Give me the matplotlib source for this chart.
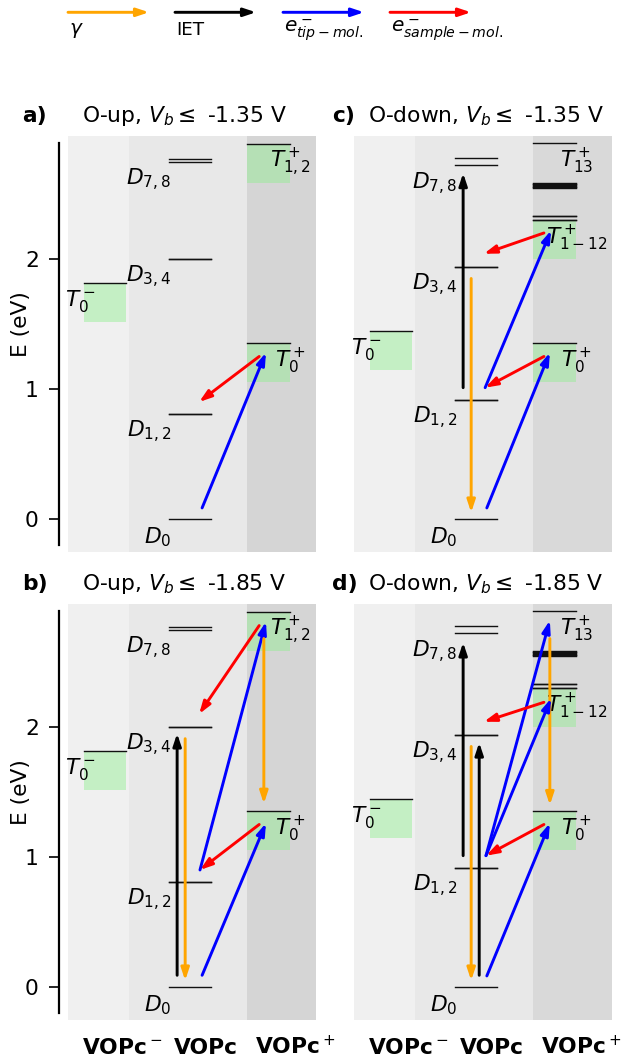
import matplotlib
matplotlib.use("Agg")
import matplotlib.pyplot as plt
from matplotlib.transforms import blended_transform_factory

W, H = 621, 1057
fig = plt.figure(figsize=(W / 100, H / 100), dpi=100)

# ---------------- DATA ----------------
column_names = ["VOPc$^-$", "VOPc", "VOPc$^+$"]
legend_kinds = ["photon", "iet", "tip", "sample"]
legend_labels = [r"$\gamma$", "IET", r"$e^-_{tip-mol.}$", r"$e^-_{sample-mol.}$"]

# O-up: levels (eV) per column
up_anion = [1.815]
up_neutral = [0.0, 0.808, 0.81, 1.999, 2.003, 2.745, 2.77]
up_cation = [1.35, 2.885]
up_boxes = [("anion", 1.815), ("cation", 1.35), ("cation", 2.885)]
up_labels = [("anion", r"$T_0^-$", 1.815),
             ("neutral", r"$D_0$", 0.0), ("neutral", r"$D_{1,2}$", 0.81),
             ("neutral", r"$D_{3,4}$", 2.0), ("neutral", r"$D_{7,8}$", 2.75),
             ("cation", r"$T_0^+$", 1.35), ("cation", r"$T_{1,2}^+$", 2.885)]

# O-down
down_anion = [1.446]
down_neutral = [0.0, 0.916, 0.918, 1.938, 1.94, 2.72, 2.78]
down_cation = [1.35, 2.30, 2.303, 2.328, 2.33, 2.545, 2.55, 2.555, 2.565,
               2.57, 2.575, 2.58, 2.585, 2.89]
down_boxes = [("anion", 1.446), ("cation", 1.35), ("cation", 2.30)]
down_labels = [("anion", r"$T_0^-$", 1.446),
               ("neutral", r"$D_0$", 0.0), ("neutral", r"$D_{1,2}$", 0.918),
               ("neutral", r"$D_{3,4}$", 1.94), ("neutral", r"$D_{7,8}$", 2.72),
               ("cation", r"$T_0^+$", 1.35), ("cation", r"$T_{1-12}^+$", 2.30),
               ("cation", r"$T_{13}^+$", 2.89)]

# arrows: (kind, x_from, E_from, x_to, E_to)
arrows_a = [("tip", 3.17, 0.085, 4.68, 1.28),
            ("sample", 4.52, 1.25, 3.10, 0.90)]
arrows_b = [("iet", 2.58, 0.09, 2.58, 1.95),
            ("photon", 2.77, 1.91, 2.77, 0.05),
            ("tip", 3.17, 0.09, 4.68, 1.26),
            ("sample", 4.52, 1.25, 3.12, 0.90),
            ("tip", 3.12, 0.90, 4.68, 2.81),
            ("sample", 4.52, 2.78, 3.10, 2.10),
            ("photon", 4.63, 2.68, 4.63, 1.41)]
arrows_c = [("iet", 2.58, 1.01, 2.58, 2.66),
            ("photon", 2.77, 1.85, 2.77, 0.05),
            ("tip", 3.14, 0.085, 4.63, 1.28),
            ("sample", 4.49, 1.25, 3.10, 1.01),
            ("tip", 3.10, 1.01, 4.66, 2.22),
            ("sample", 4.49, 2.20, 3.07, 2.04)]
arrows_d = [("iet", 2.58, 1.01, 2.58, 2.65),
            ("photon", 2.77, 1.85, 2.77, 0.05),
            ("iet", 2.96, 0.09, 2.96, 1.88),
            ("photon", 4.63, 2.68, 4.63, 1.40),
            ("tip", 3.14, 0.085, 4.63, 1.26),
            ("sample", 4.49, 1.25, 3.12, 1.01),
            ("tip", 3.12, 1.01, 4.66, 2.22),
            ("tip", 3.12, 1.01, 4.63, 2.82),
            ("sample", 4.49, 2.19, 3.07, 2.04)]

panel_tags = ["a)", "b)", "c)", "d)"]
panel_titles = [r"O-up, $V_b \leq$ -1.35 V", r"O-up, $V_b \leq$ -1.85 V",
                r"O-down, $V_b \leq$ -1.35 V", r"O-down, $V_b \leq$ -1.85 V"]

# ---------------- STYLE ----------------
COLORS = {"photon": "orange", "iet": "black", "tip": "blue", "sample": "red"}
ARROW = "-|>,head_length=0.36,head_width=0.12"
LINE_X = {"anion": (0.38, 1.38), "neutral": (2.39, 3.39), "cation": (4.24, 5.24)}
LABEL_X = {"anion": (0.30, "center"), "neutral": (2.44, "right"), "cation": (5.27, "center")}
NAME_X = [1.28, 3.25, 5.37]
YLIM = (-0.254, 2.946)
FS = 15.7


def px_axes(left, top, right, bottom):
    return fig.add_axes([left / W, 1 - bottom / H, (right - left) / W, (bottom - top) / H])


def arrow(ax, x0, y0, x1, y1, color):
    ax.annotate("", xy=(x1, y1), xytext=(x0, y0),
                arrowprops=dict(arrowstyle=ARROW, color=color, lw=2.1,
                                shrinkA=0, shrinkB=0, mutation_scale=20),
                zorder=4)


def draw_panel(ax, xmax, shade3, anion, neutral, cation, boxes, labels, arrows):
    ax.set_xlim(0, xmax)
    ax.set_ylim(*YLIM)
    ax.axvspan(0, 1.44, color="#f0f0f0", lw=0, zorder=0)
    ax.axvspan(1.44, 4.24, color="#e8e8e8", lw=0, zorder=0)
    ax.axvspan(4.24, xmax, color=shade3, lw=0, zorder=0)

    for col, e in boxes:
        ax.fill_between(LINE_X[col], e - 0.3, e, color="lightgreen", alpha=0.45,
                        lw=0, zorder=1)
    for col, levels in (("anion", anion), ("neutral", neutral), ("cation", cation)):
        for e in levels:
            ax.plot(LINE_X[col], [e, e], color="#111111", lw=1.0, zorder=2)
    for col, txt, e in labels:
        x, ha = LABEL_X[col]
        ax.text(x, e - 0.14, txt, ha=ha, va="center", fontsize=FS, zorder=3)
    for kind, x0, e0, x1, e1 in arrows:
        arrow(ax, x0, e0, x1, e1, COLORS[kind])

    ax.set_xticks([])
    for s in ax.spines.values():
        s.set_visible(False)
    ax.set_yticks([])


# layout overlay in pixel coordinates
lay = fig.add_axes([0, 0, 1, 1], zorder=-1)
lay.set_xlim(0, W)
lay.set_ylim(H, 0)
lay.axis("off")

ax_a = px_axes(68, 136, 316, 552)
ax_b = px_axes(68, 604, 316, 1020)
ax_c = px_axes(354, 136, 612, 552)
ax_d = px_axes(354, 604, 612, 1020)

draw_panel(ax_a, 248 / 42.3, "#d5d5d5", up_anion, up_neutral, up_cation, up_boxes, up_labels, arrows_a)
draw_panel(ax_b, 248 / 42.3, "#d5d5d5", up_anion, up_neutral, up_cation, up_boxes, up_labels, arrows_b)
draw_panel(ax_c, 258 / 42.3, "#d9d9d9", down_anion, down_neutral, down_cation, down_boxes, down_labels, arrows_c)
draw_panel(ax_d, 258 / 42.3, "#d9d9d9", down_anion, down_neutral, down_cation, down_boxes, down_labels, arrows_d)

# energy axis on the left panels
for ax in (ax_a, ax_b):
    ax.spines["left"].set_visible(True)
    ax.spines["left"].set_position(("outward", 6.5))
    ax.spines["left"].set_bounds(-0.2, 2.89)
    ax.spines["left"].set_linewidth(1.6)
    ax.set_yticks([0, 1, 2])
    ax.tick_params(axis="y", length=7.5, width=1.2, labelsize=FS, pad=7)

lay.text(21, 324, "E (eV)", rotation=90, ha="center", va="center", fontsize=FS)
lay.text(21, 792, "E (eV)", rotation=90, ha="center", va="center", fontsize=FS)

# molecule names under bottom panels
for ax in (ax_b, ax_d):
    tr = blended_transform_factory(ax.transData, ax.transAxes)
    for x, name in zip(NAME_X, column_names):
        ax.text(x, -0.082, name, transform=tr, ha="center", va="baseline",
                fontsize=FS, fontweight="bold")

# panel titles
for (tx, lx, by), tag, title in zip([(22, 82, 122), (22, 82, 590), (332, 368, 122), (332, 368, 590)],
                                    panel_tags, panel_titles):
    lay.text(tx, by, tag, ha="left", va="baseline", fontsize=FS, fontweight="bold")
    lay.text(lx, by, title, ha="left", va="baseline", fontsize=FS)

# legend row
for i, (kind, lab) in enumerate(zip(legend_kinds, legend_labels)):
    x0 = [68, 175, 283, 390][i]
    lay.annotate("", xy=(x0 + 81, 12.3), xytext=(x0, 12.3),
                 arrowprops=dict(arrowstyle=ARROW, color=COLORS[kind], lw=2.1,
                                 shrinkA=0, shrinkB=0, mutation_scale=20))
    lay.text(x0 + 1, 30, lab, ha="left", va="center",
             fontsize=13.2 if kind == "iet" else 14.5)

fig.savefig("out.png", dpi=100)
